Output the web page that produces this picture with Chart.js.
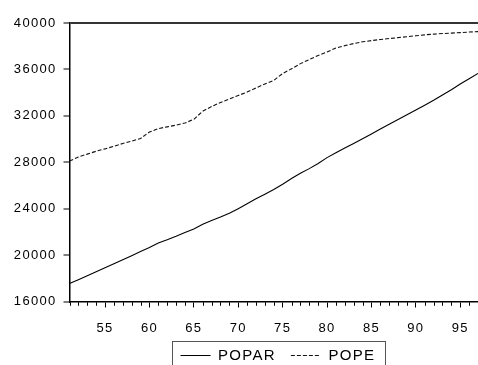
<!DOCTYPE html>
<html><head><meta charset="utf-8">
<script src="https://cdn.jsdelivr.net/npm/chart.js@4/dist/chart.umd.min.js"></script>
<style>html,body{margin:0;padding:0;background:#fff;}</style>
</head><body>
<canvas id="c" width="478" height="365"></canvas>
<script>
// ---- data ----
const years = [51,52,53,54,55,56,57,58,59,60,61,62,63,64,65,66,67,68,69,70,71,72,73,74,75,76,77,78,79,80,81,82,83,84,85,86,87,88,89,90,91,92,93,94,95,96,97];
const popar = [17550,17880,18220,18560,18900,19250,19600,19950,20300,20650,21050,21330,21630,21950,22250,22650,22980,23280,23600,24000,24420,24850,25250,25650,26100,26600,27050,27450,27900,28400,28820,29220,29620,30020,30440,30860,31270,31680,32090,32500,32920,33340,33800,34250,34750,35200,35650];
const pope = [28100,28450,28700,28950,29150,29380,29620,29820,30050,30600,30900,31050,31200,31380,31700,32400,32800,33150,33450,33750,34050,34400,34750,35050,35650,36050,36500,36850,37200,37500,37850,38050,38230,38380,38480,38580,38660,38740,38820,38900,38980,39040,39090,39130,39170,39220,39260];
const xMajorTicks = [55,60,65,70,75,80,85,90,95];
const yTickValues = [16000,20000,24000,28000,32000,36000,40000];
const seriesNames = ['POPAR','POPE'];

// ---- styling ----
const FONT = 'Liberation Sans, Arial, sans-serif';
const spacing = {
  id: 'spacing',
  beforeUpdate(c){ c.ctx.letterSpacing = '1.3px'; },
  beforeDraw(c){ c.ctx.letterSpacing = '1.3px'; }
};
// minor (yearly) tick marks, placed through the x scale
const minorTicks = {
  id: 'minorTicks',
  afterDraw(chart){
    const sx = chart.scales.x, ctx = chart.ctx;
    const y0 = chart.chartArea.bottom + 0.75;
    ctx.save();
    ctx.strokeStyle = '#000';
    ctx.lineWidth = 1;
    ctx.beginPath();
    years.forEach(v => {
      if (xMajorTicks.includes(v)) return;
      const px = Math.round(sx.getPixelForValue(v)) + 0.5;
      ctx.moveTo(px, y0); ctx.lineTo(px, y0 + 3.5);
    });
    ctx.stroke();
    ctx.restore();
  }
};
const boxLegend = {
  id: 'boxLegend',
  afterDraw(chart){
    const ctx = chart.ctx;
    ctx.save();
    ctx.letterSpacing = '1.3px';
    ctx.font = '15px ' + FONT;
    ctx.strokeStyle = '#555';
    ctx.lineWidth = 1;
    ctx.strokeRect(172.5, 341.5, 213, 40);
    let x = 180.5;
    const yc = 355.5;
    chart.data.datasets.forEach(ds => {
      ctx.beginPath();
      ctx.setLineDash(ds.borderDash || []);
      ctx.strokeStyle = ds.borderColor;
      ctx.lineWidth = 1;
      ctx.moveTo(x, yc); ctx.lineTo(x + 30, yc);
      ctx.stroke();
      ctx.setLineDash([]);
      ctx.fillStyle = '#000';
      ctx.textBaseline = 'middle';
      ctx.textAlign = 'left';
      const tx = x + 37.5;
      ctx.fillText(ds.label, tx, yc);
      x = tx + ctx.measureText(ds.label).width + 15;
    });
    ctx.restore();
  }
};

new Chart(document.getElementById('c'), {
  type: 'line',
  data: {
    datasets: [
      { label: seriesNames[0], data: years.map((y,i)=>({x:y, y:popar[i]})), borderColor:'#000', borderWidth:1.1, pointRadius:0, tension:0, fill:false },
      { label: seriesNames[1], data: years.map((y,i)=>({x:y, y:pope[i]})), borderColor:'#111', borderWidth:1.1, borderDash:[4,2], pointRadius:0, tension:0, fill:false }
    ]
  },
  options: {
    responsive: false,
    animation: false,
    devicePixelRatio: 1,
    layout: { padding: { top: 23, right: 0, left: 0, bottom: 0 } },
    plugins: { legend: { display: false }, tooltip: { enabled: false } },
    scales: {
      x: {
        type: 'linear', min: 51, max: 97,
        afterBuildTicks: s => { s.ticks = xMajorTicks.map(v => ({ value: v })); },
        ticks: { autoSkip: false, maxRotation: 0, padding: 2, color: '#000',
                 font: { family: FONT, size: 13, lineHeight: '38px' }, callback: v => String(v) },
        grid: { display: true, drawOnChartArea: false, drawTicks: true, tickLength: 6, tickColor: '#000', tickWidth: 1, color: '#000' },
        border: { color: '#000', width: 1.5 },
        afterFit: s => { s.height = 63.5; }
      },
      y: {
        min: 16000, max: 40000,
        afterBuildTicks: s => { s.ticks = yTickValues.map(v => ({ value: v })); },
        ticks: { padding: 7, color: '#000', font: { family: FONT, size: 13 }, callback: v => String(v) },
        grid: { drawOnChartArea: true, tickLength: 6, tickColor: '#000', tickWidth: 1,
                color: c => (c.tick && c.tick.value === 40000 ? '#333' : 'rgba(0,0,0,0)'), lineWidth: 2 },
        border: { color: '#000', width: 1.5 },
        afterFit: s => { s.width = 69.5; }
      }
    }
  },
  plugins: [spacing, minorTicks, boxLegend]
});
</script>
</body></html>
